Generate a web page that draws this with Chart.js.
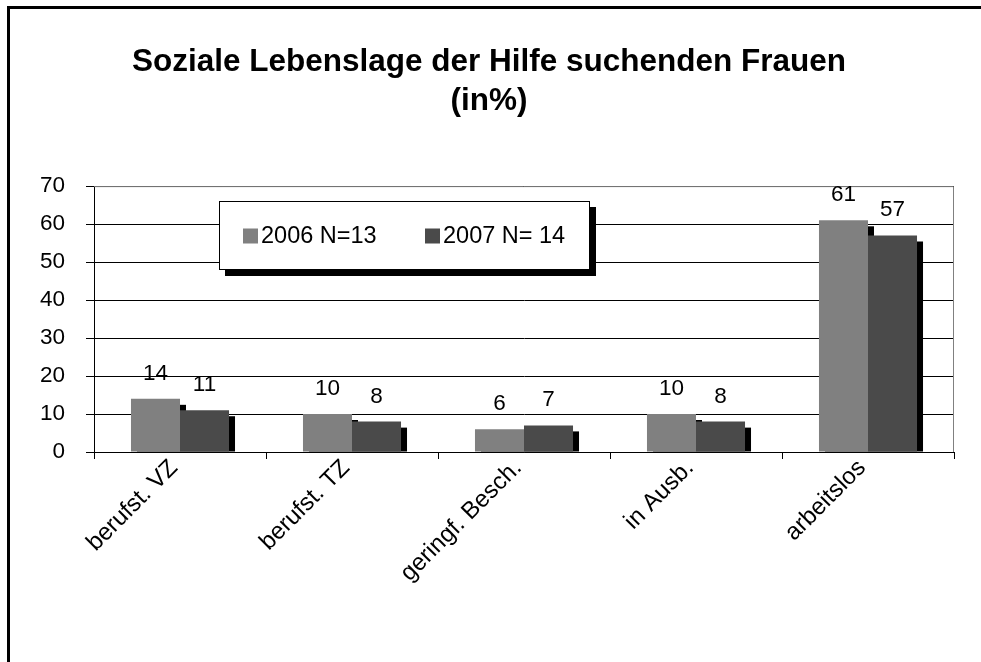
<!DOCTYPE html>
<html>
<head>
<meta charset="utf-8">
<script src="https://cdn.jsdelivr.net/npm/chart.js@4/dist/chart.umd.min.js"></script>
<style>
  html, body { margin: 0; padding: 0; background: #fff; }
  #wrap { position: relative; width: 981px; height: 662px; }
</style>
</head>
<body>
<div id="wrap"><canvas id="lebenslageChart"></canvas></div>
<script>
/* Soziale Lebenslage - chart data */
const categories = ['berufst. VZ', 'berufst. TZ', 'geringf. Besch.', 'in Ausb.', 'arbeitslos'];
const seriesNames = ['2006 N=13', '2007 N= 14'];
const values2006 = [14, 10, 6, 10, 61];
const values2007 = [11, 8, 7, 8, 57];
const yTicks = [0, 10, 20, 30, 40, 50, 60, 70];
const titleLines = ['Soziale Lebenslage der Hilfe suchenden Frauen', '(in%)'];

const FONT = "'Liberation Sans', Arial, sans-serif";

// white page + outer frame
const framePlugin = {
    id: 'frame',
    beforeDraw(chart) {
        const ctx = chart.ctx;
        ctx.save();
        ctx.fillStyle = '#fff';
        ctx.fillRect(0, 0, chart.width, chart.height);
        ctx.restore();
    },
    afterDraw(chart) {
        const ctx = chart.ctx;
        ctx.save();
        ctx.fillStyle = '#000';
        ctx.fillRect(7, 6, 3, chart.height - 6);
        ctx.fillRect(7, 6, chart.width - 7, 3);
        ctx.restore();
    }
};

// black drop shadows behind the bars, gray plot border
const shadowPlugin = {
    id: 'barShadow',
    beforeDatasetsDraw(chart) {
        const ctx = chart.ctx;
        const area = chart.chartArea;
        ctx.save();
        ctx.strokeStyle = '#808080';
        ctx.lineWidth = 1;
        ctx.beginPath();
        ctx.moveTo(area.left, area.top + 0.5);
        ctx.lineTo(area.right - 0.5, area.top + 0.5);
        ctx.lineTo(area.right - 0.5, area.bottom);
        ctx.stroke();
        ctx.fillStyle = '#000';
        chart.data.datasets.forEach((ds, i) => {
            chart.getDatasetMeta(i).data.forEach(bar => {
                const p = bar.getProps(['x', 'y', 'base', 'width'], true);
                const left = p.x - p.width / 2 + 6;
                const top = p.y + 6;
                if (p.base > top) ctx.fillRect(left, top, p.width, p.base - top);
            });
        });
        ctx.restore();
    }
};

// value labels above the bars
const valueLabelPlugin = {
    id: 'valueLabels',
    afterDatasetsDraw(chart) {
        const ctx = chart.ctx;
        ctx.save();
        ctx.font = '22.5px ' + FONT;
        ctx.fillStyle = '#000';
        ctx.textAlign = 'center';
        ctx.textBaseline = 'alphabetic';
        chart.data.datasets.forEach((ds, i) => {
            chart.getDatasetMeta(i).data.forEach((bar, j) => {
                ctx.fillText(String(ds.data[j]), bar.x, bar.y - 19);
            });
        });
        ctx.restore();
    }
};

// boxed legend with shadow, inside the plot
const boxLegendPlugin = {
    id: 'boxLegend',
    afterDatasetsDraw(chart) {
        const ctx = chart.ctx;
        const box = { x: 219, y: 201, w: 371, h: 69 };
        ctx.save();
        ctx.fillStyle = '#000';
        ctx.fillRect(box.x + 6, box.y + 6, box.w, box.h);
        ctx.fillStyle = '#fff';
        ctx.fillRect(box.x, box.y, box.w, box.h);
        ctx.strokeStyle = '#000';
        ctx.lineWidth = 1;
        ctx.strokeRect(box.x + 0.5, box.y + 0.5, box.w - 1, box.h - 1);
        ctx.font = '23.5px ' + FONT;
        ctx.textBaseline = 'middle';
        const cy = box.y + box.h / 2;
        const starts = [243, 425];
        chart.data.datasets.forEach((ds, i) => {
            ctx.fillStyle = ds.backgroundColor;
            ctx.fillRect(starts[i], cy - 7, 15, 15);
            ctx.fillStyle = '#000';
            ctx.fillText(ds.label, starts[i] + 18, cy + 1);
        });
        ctx.restore();
    }
};

function initializeChart() {
    const ctx = document.getElementById('lebenslageChart').getContext('2d');
    new Chart(ctx, {
        type: 'bar',
        data: {
            labels: categories,
            datasets: [{
                label: seriesNames[0],
                data: values2006,
                backgroundColor: '#808080',
                borderWidth: 0
            }, {
                label: seriesNames[1],
                data: values2007,
                backgroundColor: '#4a4a4a',
                borderWidth: 0
            }]
        },
        options: {
            responsive: true,
            maintainAspectRatio: false,
            animation: false,
            devicePixelRatio: 1,
            layout: { padding: { left: 0, right: 3, top: 0, bottom: 0 } },
            datasets: {
                bar: { barPercentage: 1, categoryPercentage: 0.57 }
            },
            plugins: {
                legend: { display: false },
                tooltip: { enabled: false },
                title: {
                    display: true,
                    text: titleLines,
                    color: '#000',
                    font: { family: FONT, size: 31.5, weight: 'bold', lineHeight: 1.24 },
                    padding: { top: 43, bottom: 65 }
                }
            },
            scales: {
                x: {
                    afterFit(scale) { scale.height = 210; },
                    grid: {
                        display: true,
                        offset: true,
                        drawOnChartArea: false,
                        drawTicks: true,
                        tickLength: 7,
                        color: '#000'
                    },
                    border: { display: true, color: '#000', width: 1 },
                    ticks: {
                        color: '#000',
                        font: { family: FONT, size: 24 },
                        minRotation: 45,
                        maxRotation: 45,
                        autoSkip: false,
                        padding: -5,
                        labelOffset: -6
                    }
                },
                y: {
                    min: 0,
                    max: 70,
                    afterFit(scale) { scale.width = 94; },
                    afterBuildTicks(scale) { scale.ticks = yTicks.map(v => ({ value: v })); },
                    grid: {
                        color: '#000',
                        lineWidth: 1,
                        tickLength: 8
                    },
                    border: { display: true, color: '#000', width: 1 },
                    ticks: {
                        color: '#000',
                        font: { family: FONT, size: 22.5 },
                        padding: 21
                    }
                },
                // empty spacer on the right so the title stays centred on the page
                spacer: {
                    type: 'linear',
                    position: 'right',
                    display: true,
                    afterFit(scale) { scale.width = 24; },
                    grid: { display: false, drawTicks: false },
                    border: { display: false },
                    ticks: { display: false }
                }
            }
        },
        plugins: [framePlugin, shadowPlugin, valueLabelPlugin, boxLegendPlugin]
    });
}

document.addEventListener('DOMContentLoaded', function() {
    initializeChart();
});
</script>
</body>
</html>
